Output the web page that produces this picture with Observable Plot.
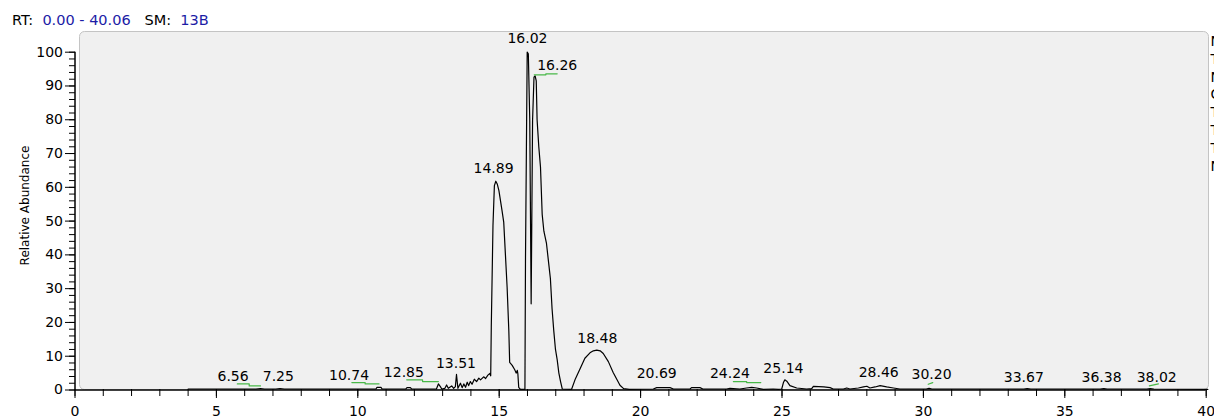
<!DOCTYPE html>
<html>
<head>
<meta charset="utf-8">
<script src="https://cdn.jsdelivr.net/npm/d3@7"></script>
<script src="https://cdn.jsdelivr.net/npm/@observablehq/plot@0.6"></script>
<style>
  html, body { margin: 0; padding: 0; background: #fff; color: #000; overflow: hidden; }
  #hdr { height: 28px; box-sizing: border-box; padding: 13px 0 0 12px; font: 14.5px "DejaVu Sans"; line-height: 14px; white-space: pre; color: #000; }
  #hdr .b { color: #1c1ca6; }
</style>
</head>
<body>
<div id="hdr">RT:  <span class="b">0.00 - 40.06</span>   SM:  <span class="b">13B</span></div>
<div id="chart"></div>
<script>
// ---- chromatogram trace (retention time, relative abundance) ----
const rt = [4.00, 6.40, 6.56, 6.70, 7.10, 7.25, 7.40, 10.64, 10.68, 10.82, 10.86, 11.70, 11.74, 11.86, 11.90,
  12.78, 12.85, 12.92, 12.97, 13.08, 13.14, 13.20, 13.32, 13.39, 13.45, 13.49, 13.54, 13.63, 13.69, 13.75, 13.81,
  13.87, 13.92, 13.98, 14.04, 14.12, 14.20, 14.28, 14.34, 14.45, 14.52, 14.60, 14.67, 14.70, 14.72, 14.78, 14.83,
  14.88, 14.93, 14.99, 15.10, 15.16, 15.28, 15.34, 15.37, 15.46, 15.55, 15.60, 15.64, 15.66, 15.69, 15.75, 15.91,
  15.93, 15.99, 16.03, 16.08, 16.13, 16.18, 16.23, 16.27, 16.31, 16.34, 16.40, 16.46, 16.52, 16.58, 16.67, 16.75,
  16.81, 16.87, 16.93, 16.99, 17.05, 17.11, 17.17, 17.23, 17.56, 17.68, 17.86, 18.03, 18.21, 18.33, 18.45, 18.57,
  18.68, 18.86, 19.03, 19.20, 19.27, 19.40, 19.60, 20.45, 20.57, 21.04, 21.16, 21.75, 21.80, 22.10, 22.20, 23.04,
  23.16, 23.51, 23.75, 23.93, 24.10, 24.34, 24.69, 24.87, 24.99, 25.05, 25.10, 25.17, 25.28, 25.52, 25.87, 26.05,
  26.11, 26.48, 26.70, 26.81, 27.17, 27.29, 27.40, 27.70, 27.88, 28.00, 28.11, 28.29, 28.47, 28.70, 28.94, 29.17,
  30.10, 30.20, 30.30, 33.55, 33.67, 33.80, 36.25, 36.38, 36.50, 37.90, 38.02, 38.15, 40.06];
const abundance = [0.3, 0.3, 0.45, 0.3, 0.3, 0.45, 0.3, 0.3, 0.8, 0.8, 0.3, 0.3, 0.7, 0.7, 0.3,
  0.3, 1.8, 1.0, 0.3, 0.5, 1.5, 0.5, 1.2, 0.5, 1.0, 4.6, 0.5, 2.0, 0.7, 1.8, 0.8,
  2.3, 1.3, 2.5, 1.7, 3.2, 2.5, 3.5, 3.0, 3.9, 3.4, 4.4, 4.9, 4.2, 18.6, 48.7, 60.5,
  61.8, 61.0, 59.0, 53.1, 49.7, 30.4, 17.6, 8.2, 7.3, 6.0, 5.0, 5.8, 4.8, 0.8, 0.2, 0.2,
  39.3, 100, 99.5, 80.3, 25.5, 79.8, 92.6, 93.0, 91.5, 80.0, 72.0, 66.0, 52.0, 47.0, 43.5, 37.5,
  33.0, 24.0, 17.5, 12.0, 9.0, 5.0, 2.5, 0.3, 0.2, 3.0, 6.3, 9.4, 11.0, 11.6, 11.8, 11.6,
  10.8, 8.4, 5.2, 2.5, 1.4, 0.4, 0.2, 0.3, 0.7, 0.7, 0.3, 0.3, 0.7, 0.7, 0.3, 0.3,
  0.5, 0.3, 0.6, 0.8, 0.6, 0.2, 0.3, 0.2, 0.3, 2.2, 3.0, 2.6, 1.3, 0.6, 0.3, 0.4,
  1.1, 0.9, 0.7, 0.3, 0.3, 0.6, 0.3, 0.6, 0.9, 1.1, 0.6, 0.9, 1.3, 0.9, 0.6, 0.3,
  0.3, 0.5, 0.3, 0.3, 0.4, 0.3, 0.3, 0.4, 0.3, 0.3, 0.4, 0.3, 0.2];

// ---- peak labels ----
const labelText = ["6.56", "7.25", "10.74", "12.85", "13.51", "14.89", "16.02", "16.26", "18.48",
  "20.69", "24.24", "25.14", "28.46", "30.20", "33.67", "36.38", "38.02"];
const labelRT = [5.59, 7.19, 9.69, 11.63, 13.47, 14.80, 16.00, 17.05, 18.47,
  20.57, 23.16, 25.05, 28.42, 30.29, 33.55, 36.30, 38.25];
const labelAbund = [0.4, 0.4, 0.7, 1.6, 4.4, 61.9, 100.4, 92.5, 11.6,
  1.4, 1.4, 2.9, 1.7, 0.9, 0.2, 0.2, 0.2];

// ---- green label connectors ----
const connId = ["a", "a", "a", "a", "b", "b", "b", "b", "c", "c", "c", "c", "d", "d", "d", "d",
  "e", "e", "e", "e", "f", "f", "g", "g"];
const connRT = [5.74, 6.16, 6.16, 6.56, 9.79, 10.26, 10.26, 10.75, 11.73, 12.29, 12.29, 12.85,
  16.24, 16.65, 16.65, 17.05, 23.28, 23.75, 23.75, 24.25, 30.17, 30.33, 37.99, 38.31];
const connAbund = [1.8, 1.8, 1.2, 1.2, 2.2, 2.2, 1.8, 1.8, 3.0, 3.0, 2.5, 2.5,
  93.3, 93.3, 93.6, 93.6, 2.5, 2.5, 2.2, 2.2, 1.7, 2.2, 1.2, 1.8];

// ---- axes ----
const xTicks = [0, 5, 10, 15, 20, 25, 30, 35, 40];
const yTicks = [0, 10, 20, 30, 40, 50, 60, 70, 80, 90, 100];
const yTitle = "Relative Abundance";
const sideText = ["N", "T", "N", "C", "T", "T", "T", "N"];

const trace = rt.map((t, i) => ({rt: t, ab: abundance[i]}));
const labels = labelText.map((s, i) => ({text: s, rt: labelRT[i], ab: labelAbund[i]}));
const conns = connId.map((id, i) => ({id, rt: connRT[i], ab: connAbund[i]}));

const chart = Plot.plot({
  width: 1214,
  height: 391,
  marginLeft: 75,
  marginRight: 6,
  marginTop: 3,
  marginBottom: 30,
  style: {fontFamily: "DejaVu Sans", fontSize: "14px", color: "#000", background: "#fff", overflow: "visible"},
  x: {domain: [0, 40], range: [74.5, 1205.7]},
  y: {domain: [0, 100], range: [361.5, 23.7]},
  marks: [
    Plot.frame({fill: "#f0f0f0", stroke: "#c4c4c4", insetLeft: 4, rx: 5}),
    Plot.axisY({ticks: d3.range(0, 101, 2), tickSize: 6, tickFormat: () => "", label: null}),
    Plot.axisY({ticks: yTicks, tickSize: 10, tickPadding: 2.5, label: null}),
    Plot.axisX({ticks: d3.range(0, 41, 1), tickSize: 7, tickFormat: () => "", label: null}),
    Plot.axisX({ticks: xTicks, tickSize: 9, tickPadding: 8, label: null}),
    Plot.ruleX([0], {y1: 0, y2: 100, stroke: "#000", strokeWidth: 1.5}),
    Plot.ruleY([0], {x1: 0, x2: 40, stroke: "#000", strokeWidth: 1.5}),
    Plot.line(trace, {x: "rt", y: "ab", stroke: "#000", strokeWidth: 1.2}),
    Plot.line(conns, {x: "rt", y: "ab", z: "id", stroke: "#48b848", strokeWidth: 1.2}),
    Plot.text(labels, {x: "rt", y: "ab", text: "text", dy: -12, lineAnchor: "middle", fill: "#000", fontSize: 14}),
    Plot.text([yTitle], {frameAnchor: "left", textAnchor: "middle", lineAnchor: "middle", rotate: -90,
      dx: -50, dy: -5, fill: "#000", fontSize: 12}),
    Plot.text([sideText.join("\n")], {frameAnchor: "top-right", textAnchor: "start", lineAnchor: "top",
      dx: 2, dy: 2, lineHeight: 1.27, fill: "#000", fontSize: 14})
  ]
});
document.getElementById("chart").appendChild(chart);
</script>
</body>
</html>
